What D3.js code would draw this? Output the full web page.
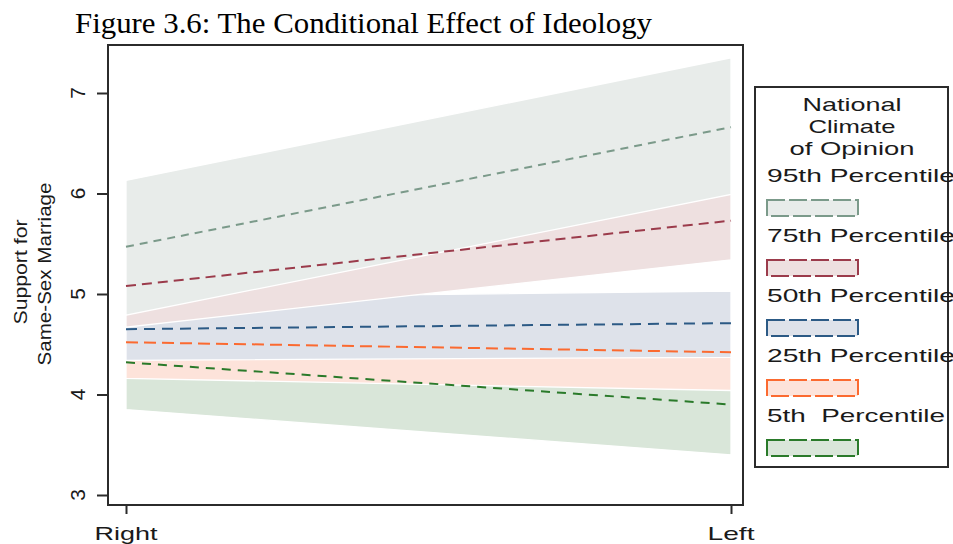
<!DOCTYPE html>
<html lang="en">
  <head>
    <meta charset="utf-8">
    <title>The Conditional Effect of Ideology</title>
    <script src="https://d3js.org/d3.v7.min.js"></script>
    <style>
      body { margin: 0; background: #fff; }
      svg { display: block; }
      text { font-family: "Liberation Sans", Arial, sans-serif; fill: #1a1a1a; }
      .title { font-family: "Liberation Serif", "Times New Roman", serif; fill: #000; }
    </style>
  </head>
  <body>
  <div id="chart"></div>
  <script>

  // values (ideology: 0 = Right, 1 = Left)
  var positions = ["Right", "Left"];
  var percentiles = ["95th Percentile", "75th Percentile", "50th Percentile", "25th Percentile", "5th  Percentile"];
  var fitRight = [5.47, 5.08, 4.65, 4.52, 4.32];
  var fitLeft = [6.66, 5.73, 4.71, 4.42, 3.90];
  var lowRight = [4.79, 4.67, 4.34, 4.16, 3.85];
  var lowLeft = [5.99, 5.34, 4.37, 4.04, 3.40];
  var highRight = [6.13, 5.47, 4.96, 4.90, 4.79];
  var highLeft = [7.35, 6.12, 5.03, 4.80, 4.38];
  var yTicks = [3, 4, 5, 6, 7];

  var lineColors = ["#7b9a8a", "#9b3b4b", "#2c5a85", "#fb6a30", "#2a7a2a"];
  var bandColors = ["#e8ecea", "#eee0e0", "#dee2ea", "#fde3da", "#d9e6d9"];
  var dashes = ["8,6", "10,6", "11,7", "12,6", "9,7"];

  var w = 953;
  var h = 544;
  var frame = {left: 108, top: 45, right: 743, bottom: 505};

  var svg = d3.select("#chart")
    .append("svg")
    .attr("width", w)
    .attr("height", h);

  var xScale = d3.scaleLinear()
    .domain([0, 1])
    .range([126, 731]);

  var yScale = d3.scaleLinear()
    .domain([3, 7])
    .range([495, 93]);

  svg.append("text")
    .attr("class", "title")
    .attr("x", 75)
    .attr("y", 33)
    .attr("font-size", 29)
    .attr("textLength", 577)
    .attr("lengthAdjust", "spacingAndGlyphs")
    .text("Figure 3.6: The Conditional Effect of Ideology");

  // build one record per percentile
  var series = percentiles.map(function(p, i) {
    return {
      name: p,
      line: lineColors[i],
      band: bandColors[i],
      dash: dashes[i],
      pts: [
        {x: 0, fit: fitRight[i], lo: lowRight[i], hi: highRight[i]},
        {x: 1, fit: fitLeft[i], lo: lowLeft[i], hi: highLeft[i]}
      ]
    };
  });

  var area = d3.area()
    .x(d => xScale(d.x))
    .y0(d => yScale(d.lo))
    .y1(d => yScale(d.hi));

  var line = d3.line()
    .x(d => xScale(d.x))
    .y(d => yScale(d.fit));

  // 5th drawn first, 95th ends up on top
  var drawOrder = series.slice().reverse();

  svg.append("g")
    .selectAll("path")
    .data(drawOrder)
    .enter().append("path")
    .attr("d", d => area(d.pts))
    .attr("fill", d => d.band)
    .attr("stroke", "#fff")
    .attr("stroke-width", 1.3);

  svg.append("g")
    .selectAll("path")
    .data(drawOrder)
    .enter().append("path")
    .attr("d", d => line(d.pts))
    .attr("fill", "none")
    .attr("stroke", d => d.line)
    .attr("stroke-width", 2)
    .attr("stroke-dasharray", d => d.dash);

  // plot frame
  svg.append("rect")
    .attr("x", frame.left)
    .attr("y", frame.top)
    .attr("width", frame.right - frame.left)
    .attr("height", frame.bottom - frame.top)
    .attr("fill", "none")
    .attr("stroke", "#2b2b2b")
    .attr("stroke-width", 2);

  // y axis
  var yAxis = d3.axisLeft(yScale)
    .tickValues(yTicks)
    .tickSize(11)
    .tickFormat("");

  var gy = svg.append("g")
    .attr("transform", `translate(${frame.left}, 0)`)
    .call(yAxis);
  gy.select(".domain").remove();
  gy.selectAll("line").attr("stroke", "#2b2b2b").attr("stroke-width", 2);

  svg.append("g")
    .selectAll("text")
    .data(yTicks)
    .enter().append("text")
    .attr("transform", d => `translate(85, ${yScale(d)}) rotate(-90)`)
    .attr("text-anchor", "middle")
    .attr("font-size", 21)
    .text(d => d);

  svg.append("text")
    .attr("transform", "translate(27, 272) rotate(-90)")
    .attr("text-anchor", "middle")
    .attr("font-size", 19)
    .attr("textLength", 105)
    .attr("lengthAdjust", "spacingAndGlyphs")
    .text("Support for");

  svg.append("text")
    .attr("transform", "translate(51, 274) rotate(-90)")
    .attr("text-anchor", "middle")
    .attr("font-size", 19)
    .attr("textLength", 183)
    .attr("lengthAdjust", "spacingAndGlyphs")
    .text("Same-Sex Marriage");

  // x axis
  var xAxis = d3.axisBottom(xScale)
    .tickValues([0, 1])
    .tickSize(9)
    .tickFormat("");

  var gx = svg.append("g")
    .attr("transform", `translate(0, ${frame.bottom})`)
    .call(xAxis);
  gx.select(".domain").remove();
  gx.selectAll("line").attr("stroke", "#2b2b2b").attr("stroke-width", 2);

  var xLabelWidths = [63, 47];
  svg.append("g")
    .selectAll("text")
    .data(positions)
    .enter().append("text")
    .attr("x", (d, i) => xScale(i))
    .attr("y", 540)
    .attr("text-anchor", "middle")
    .attr("font-size", 19)
    .attr("textLength", (d, i) => xLabelWidths[i])
    .attr("lengthAdjust", "spacingAndGlyphs")
    .text(d => d);

  // legend
  var legend = svg.append("g");

  legend.append("rect")
    .attr("x", 755)
    .attr("y", 87)
    .attr("width", 193)
    .attr("height", 380)
    .attr("fill", "#fff")
    .attr("stroke", "#2b2b2b")
    .attr("stroke-width", 2);

  var legendTitle = ["National", "Climate", "of Opinion"];
  var legendTitleWidths = [99, 87, 125];
  legend.selectAll(".ltitle")
    .data(legendTitle)
    .enter().append("text")
    .attr("class", "ltitle")
    .attr("x", 852)
    .attr("y", (d, i) => 111 + i * 22)
    .attr("text-anchor", "middle")
    .attr("font-size", 19)
    .attr("textLength", (d, i) => legendTitleWidths[i])
    .attr("lengthAdjust", "spacingAndGlyphs")
    .text(d => d);

  var items = legend.selectAll(".item")
    .data(series)
    .enter().append("g")
    .attr("class", "item")
    .attr("transform", (d, i) => `translate(0, ${i * 60})`);

  items.append("text")
    .attr("x", 767)
    .attr("y", 182)
    .attr("font-size", 19)
    .attr("xml:space", "preserve")
    .style("white-space", "pre")
    .attr("textLength", (d, i) => i == 4 ? 178 : 188)
    .attr("lengthAdjust", "spacingAndGlyphs")
    .text(d => d.name);

  items.append("rect")
    .attr("x", 767)
    .attr("y", 200)
    .attr("width", 91)
    .attr("height", 16)
    .attr("fill", d => d.band)
    .attr("stroke", d => d.line)
    .attr("stroke-width", 2)
    .attr("stroke-dasharray", "18,4");

  </script>
  </body>
</html>
